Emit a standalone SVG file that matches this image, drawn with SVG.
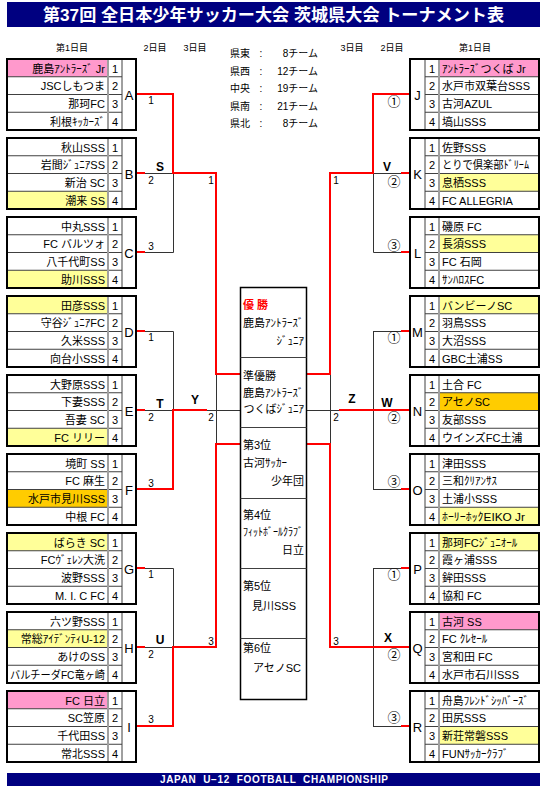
<svg xmlns="http://www.w3.org/2000/svg" width="547" height="787" viewBox="0 0 547 787">
<style>
text{font-family:"Liberation Sans","Noto Sans CJK JP",sans-serif;fill:#000}
.t{font-size:11px}
.nl{text-anchor:end}
.num{text-anchor:middle}
.let{font-size:13px;text-anchor:middle}
.frame{fill:none;stroke:#000;stroke-width:2}
.row{fill:none;stroke:#404040;stroke-width:1}
.gsep{fill:none;stroke:#a0a0a0;stroke-width:2}
.pk{fill:#ff99cc}.yl{fill:#ffff99}.or{fill:#ffcc00}
.bk{fill:none;stroke:#333;stroke-width:1}
.rd{fill:none;stroke:#ff0000;stroke-width:2}
.sm{font-size:10px;text-anchor:middle}
.cir{font-family:"Noto Sans CJK JP",sans-serif;font-size:13px;text-anchor:middle}
.bl{font-weight:bold;font-size:12px;text-anchor:middle}
.hd{font-size:9px;text-anchor:middle}
.rg{font-size:10px}
.wt{fill:#fff;font-weight:bold}
</style>
<rect width="547" height="787" fill="#fff"/>
<g id="title">
<rect x="7" y="2" width="533" height="25" fill="#000080"/>
<text class="wt" x="43" y="21" font-size="17" textLength="461" lengthAdjust="spacingAndGlyphs">第37回 全日本少年サッカー大会 茨城県大会 トーナメント表</text>
</g>
<g id="headers">
<text class="hd" x="72" y="51">第1日目</text>
<text class="hd" x="155" y="51">2日目</text>
<text class="hd" x="195" y="51">3日目</text>
<text class="hd" x="352" y="51">3日目</text>
<text class="hd" x="392" y="51">2日目</text>
<text class="hd" x="475" y="51">第1日目</text>
</g>
<g id="regions">
<text class="rg" x="230" y="57">県東</text><text class="rg" x="261" y="57" text-anchor="middle">:</text><text class="rg" x="318" y="57" text-anchor="end">8チーム</text>
<text class="rg" x="230" y="74.5">県西</text><text class="rg" x="261" y="74.5" text-anchor="middle">:</text><text class="rg" x="318" y="74.5" text-anchor="end">12チーム</text>
<text class="rg" x="230" y="92">中央</text><text class="rg" x="261" y="92" text-anchor="middle">:</text><text class="rg" x="318" y="92" text-anchor="end">19チーム</text>
<text class="rg" x="230" y="109.5">県南</text><text class="rg" x="261" y="109.5" text-anchor="middle">:</text><text class="rg" x="318" y="109.5" text-anchor="end">21チーム</text>
<text class="rg" x="230" y="127">県北</text><text class="rg" x="261" y="127" text-anchor="middle">:</text><text class="rg" x="318" y="127" text-anchor="end">8チーム</text>
</g>

<g id="connectors">
<path class="bk" d="M145 173.5H173M145 252.5H173.5V173M145 331.5H173.5V410.5M145 410.5H173M207 410.5H240M216.5 374V444M145 568.5H173.5V647M145 647.5H173"/>
<path class="bk" d="M373 173.5H401M373.5 173V252.5H401M373.5 331.5V489.5M373 331.5H401M373 489.5H401M306 410.5H339M330.5 374V444M373.5 568.5V726.5M373 568.5H401M373 726.5H401"/>
<path class="rd" d="M136 94H173V173H216V374H240M136 173H145M136 252H145M136 331H145M136 410H145M136 568H145M136 647H145M136 489H173V410H207M136 726H173V647H216V444H240"/>
<path class="rd" d="M410 94H373V173H330V374H306M401 173H410M401 252H410M401 331H410M401 489H410M401 568H410M401 726H410M410 410H339M410 647H330V444H306"/>
</g>

<g id="bracket-labels">
<text class="sm" x="151" y="104">1</text>
<text class="sm" x="151" y="184">2</text>
<text class="sm" x="151" y="250">3</text>
<text class="sm" x="211" y="184">1</text>
<text class="sm" x="151" y="341">1</text>
<text class="sm" x="151" y="421">2</text>
<text class="sm" x="151" y="487">3</text>
<text class="sm" x="211" y="421">2</text>
<text class="sm" x="151" y="578">1</text>
<text class="sm" x="151" y="658">2</text>
<text class="sm" x="151" y="723">3</text>
<text class="sm" x="211" y="645">3</text>
<text class="sm" x="336" y="184">1</text>
<text class="sm" x="336" y="421">2</text>
<text class="sm" x="336" y="645">3</text>
<text class="cir" x="394" y="106">①</text>
<text class="cir" x="394" y="186">②</text>
<text class="cir" x="394" y="250">③</text>
<text class="cir" x="394" y="342">①</text>
<text class="cir" x="394" y="422">②</text>
<text class="cir" x="394" y="486">③</text>
<text class="cir" x="394" y="579">①</text>
<text class="cir" x="394" y="659">②</text>
<text class="cir" x="394" y="722">③</text>
<text class="bl" x="160" y="171">S</text>
<text class="bl" x="160" y="408">T</text>
<text class="bl" x="160" y="644">U</text>
<text class="bl" x="195" y="404">Y</text>
<text class="bl" x="387" y="171">V</text>
<text class="bl" x="387" y="407">W</text>
<text class="bl" x="352" y="403">Z</text>
<text class="bl" x="388" y="642">X</text>
</g>

<g id="box-A" transform="translate(0,59)">
<rect class="pk" x="7" y="0" width="101" height="17.75"/>
<path class="row" d="M7 17.75H122M7 35.5H122M7 53.25H122M122 0V71"/><path class="gsep" d="M108 0V71"/><rect class="frame" x="7" y="0" width="129" height="71"/>
<text class="t nl" x="105" y="13.5">鹿島ｱﾝﾄﾗｰｽﾞ Jr</text><text class="t nl" x="105" y="31.25">JSCしもつま</text><text class="t nl" x="105" y="49">那珂FC</text><text class="t nl" x="105" y="66.75">利根ｷｯｶｰｽﾞ</text>
<text class="t num" x="115" y="13.5">1</text><text class="t num" x="115" y="31.25">2</text><text class="t num" x="115" y="49">3</text><text class="t num" x="115" y="66.75">4</text>
<text class="let" x="129" y="40.5">A</text>
</g>
<g id="box-B" transform="translate(0,138)">
<rect class="yl" x="7" y="53.25" width="101" height="17.75"/>
<path class="row" d="M7 17.75H122M7 35.5H122M7 53.25H122M122 0V71"/><path class="gsep" d="M108 0V71"/><rect class="frame" x="7" y="0" width="129" height="71"/>
<text class="t nl" x="105" y="13.5">秋山SSS</text><text class="t nl" x="105" y="31.25">岩間ｼﾞｭﾆｱSS</text><text class="t nl" x="105" y="49">新治 SC</text><text class="t nl" x="105" y="66.75">潮来 SS</text>
<text class="t num" x="115" y="13.5">1</text><text class="t num" x="115" y="31.25">2</text><text class="t num" x="115" y="49">3</text><text class="t num" x="115" y="66.75">4</text>
<text class="let" x="129" y="40.5">B</text>
</g>
<g id="box-C" transform="translate(0,217)">
<rect class="yl" x="7" y="53.25" width="101" height="17.75"/>
<path class="row" d="M7 17.75H122M7 35.5H122M7 53.25H122M122 0V71"/><path class="gsep" d="M108 0V71"/><rect class="frame" x="7" y="0" width="129" height="71"/>
<text class="t nl" x="105" y="13.5">中丸SSS</text><text class="t nl" x="105" y="31.25">FC バルツォ</text><text class="t nl" x="105" y="49">八千代町SS</text><text class="t nl" x="105" y="66.75">助川SSS</text>
<text class="t num" x="115" y="13.5">1</text><text class="t num" x="115" y="31.25">2</text><text class="t num" x="115" y="49">3</text><text class="t num" x="115" y="66.75">4</text>
<text class="let" x="129" y="40.5">C</text>
</g>
<g id="box-D" transform="translate(0,296)">
<rect class="yl" x="7" y="0" width="101" height="17.75"/>
<path class="row" d="M7 17.75H122M7 35.5H122M7 53.25H122M122 0V71"/><path class="gsep" d="M108 0V71"/><rect class="frame" x="7" y="0" width="129" height="71"/>
<text class="t nl" x="105" y="13.5">田彦SSS</text><text class="t nl" x="105" y="31.25">守谷ｼﾞｭﾆｱFC</text><text class="t nl" x="105" y="49">久米SSS</text><text class="t nl" x="105" y="66.75">向台小SSS</text>
<text class="t num" x="115" y="13.5">1</text><text class="t num" x="115" y="31.25">2</text><text class="t num" x="115" y="49">3</text><text class="t num" x="115" y="66.75">4</text>
<text class="let" x="129" y="40.5">D</text>
</g>
<g id="box-E" transform="translate(0,375)">
<rect class="yl" x="7" y="53.25" width="101" height="17.75"/>
<path class="row" d="M7 17.75H122M7 35.5H122M7 53.25H122M122 0V71"/><path class="gsep" d="M108 0V71"/><rect class="frame" x="7" y="0" width="129" height="71"/>
<text class="t nl" x="105" y="13.5">大野原SSS</text><text class="t nl" x="105" y="31.25">下妻SSS</text><text class="t nl" x="105" y="49">吾妻 SC</text><text class="t nl" x="105" y="66.75">FC リリー</text>
<text class="t num" x="115" y="13.5">1</text><text class="t num" x="115" y="31.25">2</text><text class="t num" x="115" y="49">3</text><text class="t num" x="115" y="66.75">4</text>
<text class="let" x="129" y="40.5">E</text>
</g>
<g id="box-F" transform="translate(0,454)">
<rect class="or" x="7" y="35.5" width="101" height="17.75"/>
<path class="row" d="M7 17.75H122M7 35.5H122M7 53.25H122M122 0V71"/><path class="gsep" d="M108 0V71"/><rect class="frame" x="7" y="0" width="129" height="71"/>
<text class="t nl" x="105" y="13.5">境町 SS</text><text class="t nl" x="105" y="31.25">FC 麻生</text><text class="t nl" x="105" y="49">水戸市見川SSS</text><text class="t nl" x="105" y="66.75">中根 FC</text>
<text class="t num" x="115" y="13.5">1</text><text class="t num" x="115" y="31.25">2</text><text class="t num" x="115" y="49">3</text><text class="t num" x="115" y="66.75">4</text>
<text class="let" x="129" y="40.5">F</text>
</g>
<g id="box-G" transform="translate(0,533)">
<rect class="yl" x="7" y="0" width="101" height="17.75"/>
<path class="row" d="M7 17.75H122M7 35.5H122M7 53.25H122M122 0V71"/><path class="gsep" d="M108 0V71"/><rect class="frame" x="7" y="0" width="129" height="71"/>
<text class="t nl" x="105" y="13.5">ばらき SC</text><text class="t nl" x="105" y="31.25">FCｳﾞｪﾚﾝ大洗</text><text class="t nl" x="105" y="49">波野SSS</text><text class="t nl" x="105" y="66.75">M. I. C FC</text>
<text class="t num" x="115" y="13.5">1</text><text class="t num" x="115" y="31.25">2</text><text class="t num" x="115" y="49">3</text><text class="t num" x="115" y="66.75">4</text>
<text class="let" x="129" y="40.5">G</text>
</g>
<g id="box-H" transform="translate(0,612)">
<rect class="yl" x="7" y="17.75" width="101" height="17.75"/>
<path class="row" d="M7 17.75H122M7 35.5H122M7 53.25H122M122 0V71"/><path class="gsep" d="M108 0V71"/><rect class="frame" x="7" y="0" width="129" height="71"/>
<text class="t nl" x="105" y="13.5">六ツ野SSS</text><text class="t nl" x="105" y="31.25">常総ｱｲﾃﾞﾝﾃｨU-12</text><text class="t nl" x="105" y="49">あけのSS</text><text class="t nl" x="105" y="66.75" textLength="95" lengthAdjust="spacingAndGlyphs">バルチーダFC竜ヶ崎</text>
<text class="t num" x="115" y="13.5">1</text><text class="t num" x="115" y="31.25">2</text><text class="t num" x="115" y="49">3</text><text class="t num" x="115" y="66.75">4</text>
<text class="let" x="129" y="40.5">H</text>
</g>
<g id="box-I" transform="translate(0,691)">
<rect class="pk" x="7" y="0" width="101" height="17.75"/>
<path class="row" d="M7 17.75H122M7 35.5H122M7 53.25H122M122 0V71"/><path class="gsep" d="M108 0V71"/><rect class="frame" x="7" y="0" width="129" height="71"/>
<text class="t nl" x="105" y="13.5">FC 日立</text><text class="t nl" x="105" y="31.25">SC笠原</text><text class="t nl" x="105" y="49">千代田SS</text><text class="t nl" x="105" y="66.75">常北SSS</text>
<text class="t num" x="115" y="13.5">1</text><text class="t num" x="115" y="31.25">2</text><text class="t num" x="115" y="49">3</text><text class="t num" x="115" y="66.75">4</text>
<text class="let" x="129" y="40.5">I</text>
</g>

<g id="box-J" transform="translate(0,59)">
<rect class="pk" x="439" y="0" width="100" height="17.75"/>
<path class="row" d="M425 17.75H539M425 35.5H539M425 53.25H539M425 0V71"/><path class="gsep" d="M439 0V71"/><rect class="frame" x="410" y="0" width="129" height="71"/>
<text class="t" x="442" y="13.5">ｱﾝﾄﾗｰｽﾞつくば Jr</text><text class="t" x="442" y="31.25">水戸市双葉台SSS</text><text class="t" x="442" y="49">古河AZUL</text><text class="t" x="442" y="66.75">塙山SSS</text>
<text class="t num" x="432" y="13.5">1</text><text class="t num" x="432" y="31.25">2</text><text class="t num" x="432" y="49">3</text><text class="t num" x="432" y="66.75">4</text>
<text class="let" x="417.5" y="40.5">J</text>
</g>
<g id="box-K" transform="translate(0,138)">
<rect class="yl" x="439" y="35.5" width="100" height="17.75"/>
<path class="row" d="M425 17.75H539M425 35.5H539M425 53.25H539M425 0V71"/><path class="gsep" d="M439 0V71"/><rect class="frame" x="410" y="0" width="129" height="71"/>
<text class="t" x="442" y="13.5">佐野SSS</text><text class="t" x="442" y="31.25" textLength="87" lengthAdjust="spacingAndGlyphs">とりで倶楽部ﾄﾞﾘｰﾑ</text><text class="t" x="442" y="49">息栖SSS</text><text class="t" x="442" y="66.75">FC ALLEGRIA</text>
<text class="t num" x="432" y="13.5">1</text><text class="t num" x="432" y="31.25">2</text><text class="t num" x="432" y="49">3</text><text class="t num" x="432" y="66.75">4</text>
<text class="let" x="417.5" y="40.5">K</text>
</g>
<g id="box-L" transform="translate(0,217)">
<rect class="yl" x="439" y="17.75" width="100" height="17.75"/>
<path class="row" d="M425 17.75H539M425 35.5H539M425 53.25H539M425 0V71"/><path class="gsep" d="M439 0V71"/><rect class="frame" x="410" y="0" width="129" height="71"/>
<text class="t" x="442" y="13.5">磯原 FC</text><text class="t" x="442" y="31.25">長須SSS</text><text class="t" x="442" y="49">FC 石岡</text><text class="t" x="442" y="66.75">ｻﾝﾊﾛｽFC</text>
<text class="t num" x="432" y="13.5">1</text><text class="t num" x="432" y="31.25">2</text><text class="t num" x="432" y="49">3</text><text class="t num" x="432" y="66.75">4</text>
<text class="let" x="417.5" y="40.5">L</text>
</g>
<g id="box-M" transform="translate(0,296)">
<rect class="yl" x="439" y="0" width="100" height="17.75"/>
<path class="row" d="M425 17.75H539M425 35.5H539M425 53.25H539M425 0V71"/><path class="gsep" d="M439 0V71"/><rect class="frame" x="410" y="0" width="129" height="71"/>
<text class="t" x="442" y="13.5">バンビーノSC</text><text class="t" x="442" y="31.25">羽鳥SSS</text><text class="t" x="442" y="49">大沼SSS</text><text class="t" x="442" y="66.75">GBC土浦SS</text>
<text class="t num" x="432" y="13.5">1</text><text class="t num" x="432" y="31.25">2</text><text class="t num" x="432" y="49">3</text><text class="t num" x="432" y="66.75">4</text>
<text class="let" x="417.5" y="40.5">M</text>
</g>
<g id="box-N" transform="translate(0,375)">
<rect class="or" x="439" y="17.75" width="100" height="17.75"/>
<path class="row" d="M425 17.75H539M425 35.5H539M425 53.25H539M425 0V71"/><path class="gsep" d="M439 0V71"/><rect class="frame" x="410" y="0" width="129" height="71"/>
<text class="t" x="442" y="13.5">土合 FC</text><text class="t" x="442" y="31.25">アセノSC</text><text class="t" x="442" y="49">友部SSS</text><text class="t" x="442" y="66.75">ウインズFC土浦</text>
<text class="t num" x="432" y="13.5">1</text><text class="t num" x="432" y="31.25">2</text><text class="t num" x="432" y="49">3</text><text class="t num" x="432" y="66.75">4</text>
<text class="let" x="417.5" y="40.5">N</text>
</g>
<g id="box-O" transform="translate(0,454)">
<rect class="yl" x="439" y="53.25" width="100" height="17.75"/>
<path class="row" d="M425 17.75H539M425 35.5H539M425 53.25H539M425 0V71"/><path class="gsep" d="M439 0V71"/><rect class="frame" x="410" y="0" width="129" height="71"/>
<text class="t" x="442" y="13.5">津田SSS</text><text class="t" x="442" y="31.25">三和ｸﾘｱﾝｻｽ</text><text class="t" x="442" y="49">土浦小SSS</text><text class="t" x="442" y="66.75" font-size="10" textLength="83" lengthAdjust="spacingAndGlyphs">ﾎｰﾘｰﾎｯｸEIKO Jr</text>
<text class="t num" x="432" y="13.5">1</text><text class="t num" x="432" y="31.25">2</text><text class="t num" x="432" y="49">3</text><text class="t num" x="432" y="66.75">4</text>
<text class="let" x="417.5" y="40.5">O</text>
</g>
<g id="box-P" transform="translate(0,533)">
<rect class="yl" x="439" y="0" width="100" height="17.75"/>
<path class="row" d="M425 17.75H539M425 35.5H539M425 53.25H539M425 0V71"/><path class="gsep" d="M439 0V71"/><rect class="frame" x="410" y="0" width="129" height="71"/>
<text class="t" x="442" y="13.5">那珂FCｼﾞｭﾆｵｰﾙ</text><text class="t" x="442" y="31.25">霞ヶ浦SSS</text><text class="t" x="442" y="49">鉾田SSS</text><text class="t" x="442" y="66.75">協和 FC</text>
<text class="t num" x="432" y="13.5">1</text><text class="t num" x="432" y="31.25">2</text><text class="t num" x="432" y="49">3</text><text class="t num" x="432" y="66.75">4</text>
<text class="let" x="417.5" y="40.5">P</text>
</g>
<g id="box-Q" transform="translate(0,612)">
<rect class="pk" x="439" y="0" width="100" height="17.75"/>
<path class="row" d="M425 17.75H539M425 35.5H539M425 53.25H539M425 0V71"/><path class="gsep" d="M439 0V71"/><rect class="frame" x="410" y="0" width="129" height="71"/>
<text class="t" x="442" y="13.5">古河 SS</text><text class="t" x="442" y="31.25">FC ｸﾚｾｰﾙ</text><text class="t" x="442" y="49">宮和田 FC</text><text class="t" x="442" y="66.75">水戸市石川SSS</text>
<text class="t num" x="432" y="13.5">1</text><text class="t num" x="432" y="31.25">2</text><text class="t num" x="432" y="49">3</text><text class="t num" x="432" y="66.75">4</text>
<text class="let" x="417.5" y="40.5">Q</text>
</g>
<g id="box-R" transform="translate(0,691)">
<rect class="yl" x="439" y="35.5" width="100" height="17.75"/>
<path class="row" d="M425 17.75H539M425 35.5H539M425 53.25H539M425 0V71"/><path class="gsep" d="M439 0V71"/><rect class="frame" x="410" y="0" width="129" height="71"/>
<text class="t" x="442" y="13.5" textLength="87" lengthAdjust="spacingAndGlyphs">舟島ﾌﾚﾝﾄﾞｼｯﾊﾞｰｽﾞ</text><text class="t" x="442" y="31.25">田尻SSS</text><text class="t" x="442" y="49">新荘常磐SSS</text><text class="t" x="442" y="66.75">FUNｻｯｶｰｸﾗﾌﾞ</text>
<text class="t num" x="432" y="13.5">1</text><text class="t num" x="432" y="31.25">2</text><text class="t num" x="432" y="49">3</text><text class="t num" x="432" y="66.75">4</text>
<text class="let" x="417.5" y="40.5">R</text>
</g>

<g id="results">
<rect x="240.5" y="287.5" width="66" height="412" fill="#fff" stroke="#000" stroke-width="1.5"/>
<path class="row" d="M240.5 357.5H306.5M240.5 427.5H306.5M240.5 498.5H306.5M240.5 568.5H306.5M240.5 638.5H306.5"/>
<text class="t" x="243" y="309" font-weight="bold" style="fill:#ff0000">優 勝</text>
<text class="t" x="243" y="327">鹿島ｱﾝﾄﾗｰｽﾞ</text>
<text class="t" x="304" y="345" text-anchor="end">ｼﾞｭﾆｱ</text>
<text class="t" x="243" y="380">準優勝</text>
<text class="t" x="243" y="397">鹿島ｱﾝﾄﾗｰｽﾞ</text>
<text class="t" x="304" y="413" text-anchor="end">つくばｼﾞｭﾆｱ</text>
<text class="t" x="243" y="449">第3位</text>
<text class="t" x="243" y="467">古河ｻｯｶｰ</text>
<text class="t" x="304" y="485" text-anchor="end">少年団</text>
<text class="t" x="243" y="519">第4位</text>
<text class="t" x="243" y="536" font-size="9" textLength="60" lengthAdjust="spacingAndGlyphs">ﾌｨｯﾄﾎﾞｰﾙｸﾗﾌﾞ</text>
<text class="t" x="304" y="554" text-anchor="end">日立</text>
<text class="t" x="243" y="590">第5位</text>
<text class="t" x="252" y="610">見川SSS</text>
<text class="t" x="243" y="652">第6位</text>
<text class="t" x="253" y="672">アセノSC</text>
</g>

<g id="footer">
<rect x="7" y="773" width="533" height="13" fill="#000080"/>
<text class="wt" x="160" y="783" font-size="10" textLength="228" lengthAdjust="spacing" style="white-space:pre">JAPAN  U−12  FOOTBALL  CHAMPIONSHIP</text>
</g>
</svg>
